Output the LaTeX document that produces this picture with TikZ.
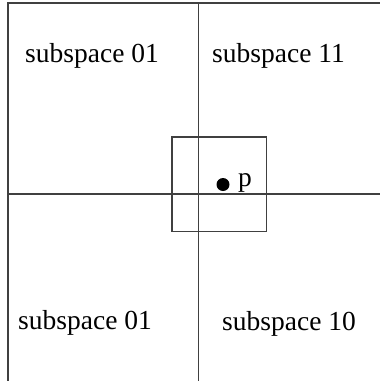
\documentclass[tikz,border=0pt]{standalone}
\usepackage{fontspec}
\setmainfont{Liberation Serif}
\begin{document}
\begin{tikzpicture}[x=1bp,y=-1bp,
  ln/.style={line width=1.1bp,draw=black!75},
  lbl/.style={anchor=base west,inner sep=0pt,font=\fontsize{27.5bp}{30bp}\selectfont}]
\useasboundingbox (0,0) rectangle (380,381);
% frame and axes
\coordinate (tl) at (8,3);
\coordinate (tr) at (380,3);
\coordinate (bl) at (8,381);
\coordinate (mt) at (198.5,3);
\coordinate (mb) at (198.5,381);
\coordinate (ml) at (8,194);
\coordinate (mr) at (380,194);
\draw[ln] (tr) -- (tl) -- (bl);
\draw[ln] (mt) -- (mb);
\draw[ln] (ml) -- (mr);
% query box
\coordinate (q1) at (172,137);
\coordinate (q2) at (266.5,231.5);
\draw[ln] (q1) rectangle (q2);
% point
\fill (223,184.5) circle (6.5) coordinate (pt);
\node[lbl] (p) at (238,186) {p};
% labels
\node[lbl] (s01a) at (25,62) {subspace 01};
\node[lbl] (s11) at (212,62) {subspace 11};
\node[lbl] (s01b) at (18,329.5) {subspace 01};
\node[lbl] (s10) at (222,330) {subspace 10};
\end{tikzpicture}
\end{document}
